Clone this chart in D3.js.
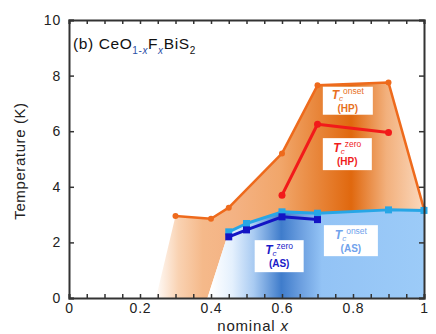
<!DOCTYPE html>
<html>
<head>
<meta charset="utf-8">
<script src="https://cdn.jsdelivr.net/npm/d3@7"></script>
<style>
  body { margin: 0; background: #fff; }
  svg { font-family: "Liberation Sans", Arial, sans-serif; }
</style>
</head>
<body>
<div id="chart"></div>
<script>
const width = 436, height = 334,
    margin = ({ top: 20, right: 8, bottom: 36, left: 69 });

// Tc onset, high pressure (HP)
const hpOnsetX = [0.3, 0.4, 0.45, 0.6, 0.7, 0.9, 1.0];
const hpOnsetT = [2.95, 2.85, 3.25, 5.2, 7.65, 7.75, 3.2];
// Tc zero, high pressure (HP)
const hpZeroX = [0.6, 0.7, 0.9];
const hpZeroT = [3.7, 6.25, 5.95];
// Tc onset, as-grown (AS)
const asOnsetX = [0.45, 0.5, 0.6, 0.7, 0.9, 1.0];
const asOnsetT = [2.38, 2.68, 3.1, 3.05, 3.17, 3.15];
// Tc zero, as-grown (AS)
const asZeroX = [0.45, 0.5, 0.6, 0.7];
const asZeroT = [2.2, 2.45, 2.92, 2.82];
// where the shaded regions meet the x axis
const hpRegionFoot = [0.245, 0.39];

const xTicks = [0, 0.2, 0.4, 0.6, 0.8, 1];
const yTicks = [0, 2, 4, 6, 8, 10];

const svg = d3.select("#chart")
    .append("svg")
    .attr("width", width)
    .attr("height", height);

const x = d3.scaleLinear().domain([0, 1]).range([margin.left, width - margin.right - 4]);
const y = d3.scaleLinear().domain([0, 10]).range([height - margin.bottom, margin.top]);

const defs = svg.append("defs");

const orangeGrad = defs.append("linearGradient")
    .attr("id", "orangeGrad")
    .attr("gradientUnits", "userSpaceOnUse")
    .attr("x1", x(0.24)).attr("x2", x(1)).attr("y1", 0).attr("y2", 0);
[[0, "#ffffff"], [0.09, "#f9d2b2"], [0.18, "#f5b98a"], [0.3, "#f4b283"],
 [0.47, "#f1a66a"], [0.73, "#e0680e"], [0.86, "#f2b07c"], [1, "#fbd9be"]]
  .forEach(s => orangeGrad.append("stop").attr("offset", s[0]).attr("stop-color", s[1]));

const blueGrad = defs.append("linearGradient")
    .attr("id", "blueGrad")
    .attr("gradientUnits", "userSpaceOnUse")
    .attr("x1", x(0.4)).attr("x2", x(1)).attr("y1", 0).attr("y2", 0);
[[0, "#ffffff"], [0.1, "#e4f0fd"], [0.2, "#a9cbf2"], [0.33, "#3f7ccb"],
 [0.42, "#6b9edf"], [0.52, "#93c3f5"], [1, "#9ccbf8"]]
  .forEach(s => blueGrad.append("stop").attr("offset", s[0]).attr("stop-color", s[1]));

const hpOn = hpOnsetX.map((d, i) => [d, hpOnsetT[i]]);
const hpZe = hpZeroX.map((d, i) => [d, hpZeroT[i]]);
const asOn = asOnsetX.map((d, i) => [d, asOnsetT[i]]);
const asZe = asZeroX.map((d, i) => [d, asZeroT[i]]);

const line = d3.line().x(d => x(d[0])).y(d => y(d[1]));

// orange (HP) region: under HP onset line, above AS onset line
const orangePoly = [[hpRegionFoot[0], 0]].concat(hpOn, asOn.slice().reverse(), [[hpRegionFoot[1], 0]]);
svg.append("path")
    .attr("d", line(orangePoly) + "Z")
    .attr("fill", "url(#orangeGrad)");

// blue (AS) region
const bluePoly = [[hpRegionFoot[1], 0]].concat(asOn, [[1, 0]]);
svg.append("path")
    .attr("d", line(bluePoly) + "Z")
    .attr("fill", "url(#blueGrad)");

function drawSeries(pts, color, lw, shape, size) {
    svg.append("path")
        .attr("d", line(pts))
        .attr("fill", "none")
        .attr("stroke", color)
        .attr("stroke-width", lw)
        .attr("stroke-linejoin", "round");
    if (shape === "circle") {
        svg.selectAll(null).data(pts).enter().append("circle")
            .attr("cx", d => x(d[0])).attr("cy", d => y(d[1]))
            .attr("r", size).attr("fill", color);
    } else {
        svg.selectAll(null).data(pts).enter().append("rect")
            .attr("x", d => x(d[0]) - size / 2).attr("y", d => y(d[1]) - size / 2)
            .attr("width", size).attr("height", size).attr("fill", color);
    }
}

drawSeries(hpOn, "#ee6a1c", 2.5, "circle", 3);
drawSeries(hpZe, "#f21a1a", 3, "circle", 3.5);
drawSeries(asOn, "#27a6e6", 3, "square", 7);
drawSeries(asZe, "#1414c4", 3, "square", 7);

// axes, ticks pointing inward on all four sides
const minor = d3.range(0, 1.0001, 0.05);
const fmt = d => xTicks.some(t => Math.abs(t - d) < 1e-6) ? d3.format("~g")(d) : "";

const axes = svg.append("g").attr("class", "axes");
axes.append("g")
    .attr("transform", "translate(0," + y(0) + ")")
    .call(d3.axisBottom(x).tickValues(minor).tickFormat(fmt).tickSize(-4).tickPadding(5));
axes.append("g")
    .attr("transform", "translate(0," + y(10) + ")")
    .call(d3.axisTop(x).tickValues(minor).tickFormat("").tickSize(-4));
axes.append("g")
    .attr("transform", "translate(" + x(0) + ",0)")
    .call(d3.axisLeft(y).tickValues(yTicks).tickSize(-5).tickPadding(8));
axes.append("g")
    .attr("transform", "translate(" + x(1) + ",0)")
    .call(d3.axisRight(y).tickValues(yTicks).tickFormat("").tickSize(-5));

axes.selectAll(".domain").attr("stroke", "#333").attr("stroke-width", 2);
axes.selectAll(".tick line").attr("stroke", "#333").attr("stroke-width", 1.5);
axes.selectAll(".tick text").attr("font-size", 14).attr("fill", "#222")
    .attr("letter-spacing", 0.8)
    .attr("font-family", "Liberation Sans, Arial, sans-serif");

// axis titles
svg.append("text")
    .attr("transform", "translate(25," + (y(5) + 2) + ") rotate(-90)")
    .attr("text-anchor", "middle")
    .attr("font-size", 15).attr("letter-spacing", 0.6).attr("fill", "#222")
    .text("Temperature (K)");

const xt = svg.append("text")
    .attr("x", 253).attr("y", 331)
    .attr("text-anchor", "middle")
    .attr("font-size", 15).attr("letter-spacing", 0.8).attr("fill", "#222");
xt.append("tspan").text("nominal ");
xt.append("tspan").attr("font-style", "italic").text("x");

// panel title
const subColor = "#2b4fa6";
const title = svg.append("text")
    .attr("x", 73).attr("y", 49)
    .attr("font-size", 15.5).attr("letter-spacing", 0.6).attr("fill", "#111");
title.append("tspan").text("(b) CeO");
title.append("tspan").attr("font-size", 10).attr("dy", 5).attr("fill", subColor).text("1-");
title.append("tspan").attr("font-size", 10).attr("font-style", "italic").attr("fill", subColor).text("x");
title.append("tspan").attr("dy", -5).text("F");
title.append("tspan").attr("font-size", 10).attr("dy", 5).attr("font-style", "italic").attr("fill", subColor).text("x");
title.append("tspan").attr("dy", -5).text("BiS");
title.append("tspan").attr("font-size", 10).attr("dy", 5).text("2");

// boxed labels
const labels = [
    { x: 0.715, y: 7.6, w: 50, h: 28, sup: "onset", tag: "(HP)", color: "#e8701e" },
    { x: 0.715, y: 5.75, w: 49, h: 32, sup: "zero", tag: "(HP)", color: "#f01c1c" },
    { x: 0.523, y: 2.08, w: 49, h: 32, sup: "zero", tag: "(AS)", color: "#1a1ac8" },
    { x: 0.718, y: 2.62, w: 54, h: 31, sup: "onset", tag: "(AS)", color: "#6fa2ec" }
];

labels.forEach(l => {
    const g = svg.append("g").attr("transform", "translate(" + x(l.x) + "," + y(l.y) + ")");
    g.append("rect").attr("width", l.w).attr("height", l.h).attr("fill", "#fff");
    const t = g.append("text")
        .attr("x", l.w / 2).attr("y", l.h / 2 - 2)
        .attr("text-anchor", "middle")
        .attr("fill", l.color);
    t.append("tspan").attr("font-size", 12).attr("font-style", "italic").attr("font-weight", "bold").text("T");
    t.append("tspan").attr("font-size", 8).attr("font-style", "italic").attr("dy", 2).text("c");
    t.append("tspan").attr("font-size", 8.5).attr("dy", -7).text(l.sup);
    g.append("text")
        .attr("x", l.w / 2).attr("y", l.h / 2 + 11)
        .attr("text-anchor", "middle")
        .attr("fill", l.color).attr("font-weight", "bold")
        .attr("font-size", 10)
        .text(l.tag);
});
</script>
</body>
</html>
